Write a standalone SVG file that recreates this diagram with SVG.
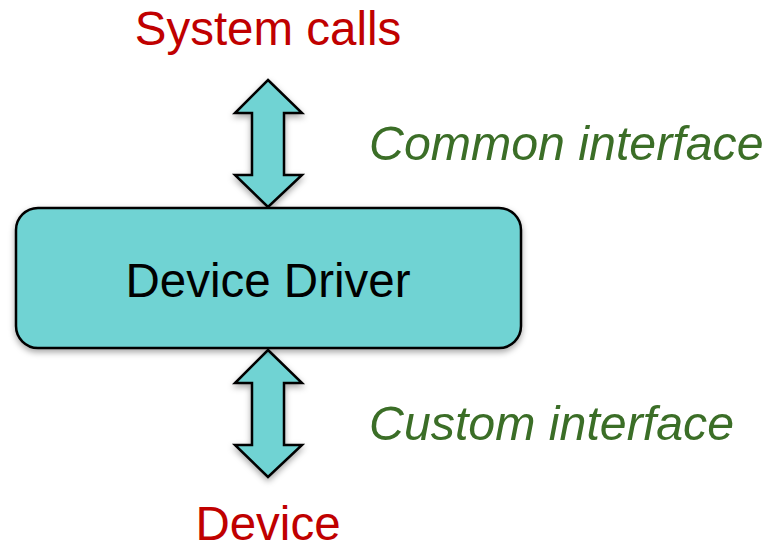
<svg xmlns="http://www.w3.org/2000/svg" width="767" height="549" viewBox="0 0 767 549">
<style>
.shape{fill:#70d3d3;stroke:#000;stroke-width:2.5;stroke-linejoin:miter;filter:url(#sh)}
.t{font-family:"Liberation Sans",Arial,sans-serif;font-size:47.5px}
.red{fill:#c00000}
.grn{fill:#3b6e27;font-style:italic;font-size:48.3px}
</style>
<defs>
<filter id="sh" x="-20%" y="-20%" width="140%" height="140%">
<feDropShadow dx="0" dy="3" stdDeviation="3" flood-color="#000" flood-opacity="0.35"/>
</filter>
</defs>
<g id="connectors">
<path class="shape" d="M268,80 L302,113 L284,113 L284,175 L302,175 L268,207 L235,175 L252,175 L252,113 L235,113 Z"/>
<path class="shape" d="M268,350 L302,383 L284,383 L284,445 L302,445 L268,477 L235,445 L252,445 L252,383 L235,383 Z"/>
</g>
<g id="driver">
<rect class="shape" x="16" y="208" width="505" height="140" rx="22" ry="22"/>
<text class="t" x="268" y="297" text-anchor="middle" fill="#000">Device Driver</text>
</g>
<g id="syscalls"><text class="t red" x="268" y="45" text-anchor="middle">System calls</text></g>
<g id="device"><text class="t red" x="268" y="540" text-anchor="middle">Device</text></g>
<g id="common"><text class="t grn" x="369" y="160">Common interface</text></g>
<g id="custom"><text class="t grn" x="369" y="440">Custom interface</text></g>
</svg>
